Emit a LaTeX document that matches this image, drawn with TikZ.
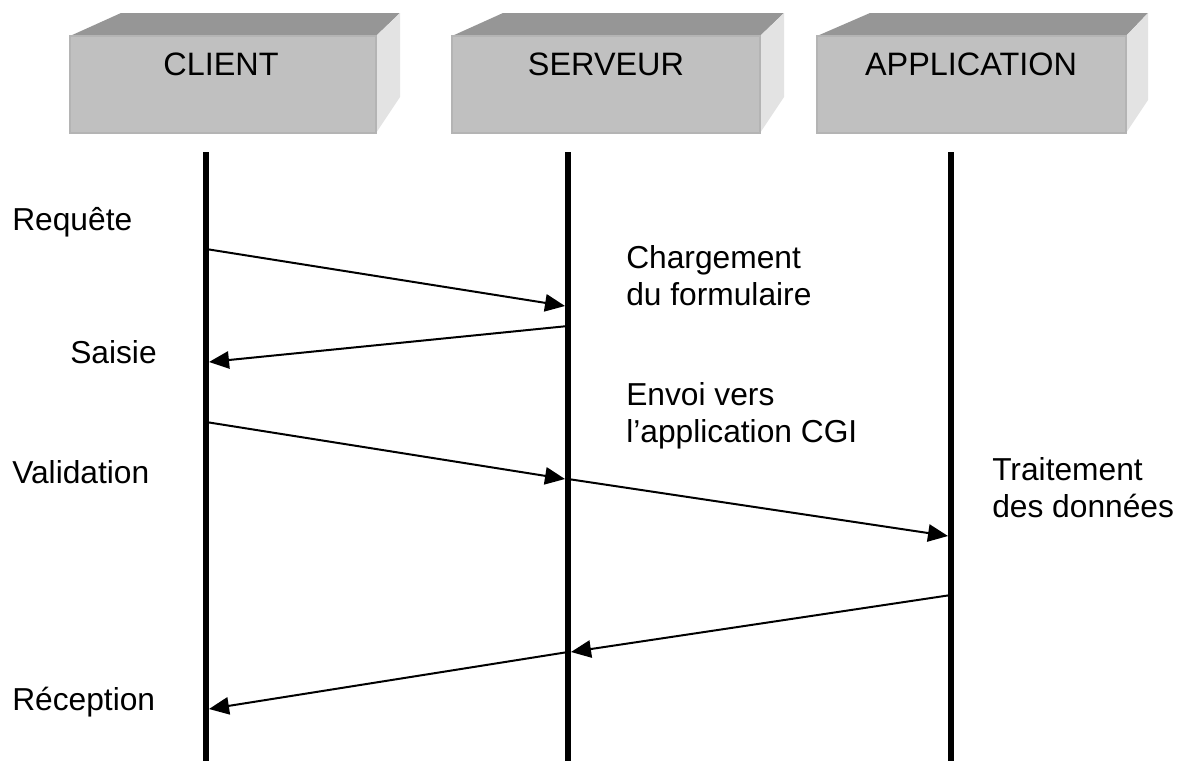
\documentclass[tikz,border=0pt]{standalone}
\usepackage{fontspec}
\setmainfont{Liberation Sans}
\usetikzlibrary{arrows.meta}
\definecolor{topgray}{HTML}{969696}
\definecolor{frontgray}{HTML}{C0C0C0}
\definecolor{sidegray}{HTML}{E3E3E3}
\definecolor{edgegray}{HTML}{B4B4B4}
\tikzset{
  topface/.style={fill=topgray,draw=none},
  frontface/.style={fill=frontgray,draw=edgegray,line width=1.2pt},
  sideface/.style={fill=sidegray,draw=none},
  boxtitle/.style={anchor=base,font=\fontsize{24.3pt}{28pt}\selectfont,inner sep=0pt},
  lifeline/.style={line width=4.5pt},
  msg/.style={line width=1.5pt,-{Triangle[length=15pt,width=13pt]}},
  lbl/.style={anchor=base west,align=left,inner sep=0pt,font=\fontsize{23.8pt}{27.75pt}\selectfont},
}
\begin{document}
\begin{tikzpicture}[x=0.75pt,y=-0.75pt]
\useasboundingbox (0,0) rectangle (1188,761);
% CLIENT box
\fill[topface] (70,36) -- (121,13) -- (400,13) -- (376,36) -- cycle;
\fill[sideface] (376,36) -- (400,13) -- (400,97) -- (376,133) -- cycle;
\draw[frontface] (70,36) rectangle (376,133);
\node[boxtitle] (client) at (221,75) {CLIENT};
% SERVEUR box
\fill[topface] (452,36) -- (503,13) -- (784,13) -- (760,36) -- cycle;
\fill[sideface] (760,36) -- (784,13) -- (784,97) -- (760,133) -- cycle;
\draw[frontface] (452,36) rectangle (760,133);
\node[boxtitle] (serveur) at (606,75) {SERVEUR};
% APPLICATION box
\fill[topface] (817,36) -- (870,13) -- (1148,13) -- (1126,36) -- cycle;
\fill[sideface] (1126,36) -- (1148,13) -- (1148,100) -- (1126,133) -- cycle;
\draw[frontface] (817,36) rectangle (1126,133);
\node[boxtitle] (application) at (971,75) {APPLICATION};

% lifelines
\coordinate (cT) at (206,152); \coordinate (cB) at (206,761);
\coordinate (sT) at (568,152); \coordinate (sB) at (568,761);
\coordinate (aT) at (951,152); \coordinate (aB) at (951,761);
\draw[lifeline] (cT) -- (cB);
\draw[lifeline] (sT) -- (sB);
\draw[lifeline] (aT) -- (aB);

% message end points
\coordinate (m1s) at (206,249); \coordinate (m1e) at (565,306);
\coordinate (m2s) at (568,326); \coordinate (m2e) at (209,362);
\coordinate (m3s) at (206,422); \coordinate (m3e) at (565,479);
\coordinate (m4s) at (568,479); \coordinate (m4e) at (948,536);
\coordinate (m5s) at (951,595); \coordinate (m5e) at (571,652);
\coordinate (m6s) at (568,652); \coordinate (m6e) at (209,709);
\draw[msg] (m1s) -- (m1e);
\draw[msg] (m2s) -- (m2e);
\draw[msg] (m3s) -- (m3e);
\draw[msg] (m4s) -- (m4e);
\draw[msg] (m5s) -- (m5e);
\draw[msg] (m6s) -- (m6e);

% labels
\node[lbl] (requete) at (12,230) {Requête};
\node[lbl] (saisie) at (70,363) {Saisie};
\node[lbl] (validation) at (12,483) {Validation};
\node[lbl] (reception) at (12,710) {Réception};
\node[lbl] (chargement) at (626,305) {Chargement\\du formulaire};
\node[lbl] (envoi) at (626,442) {Envoi vers\\l’application CGI};
\node[lbl] (traitement) at (992,517) {Traitement\\des données};
\end{tikzpicture}
\end{document}
